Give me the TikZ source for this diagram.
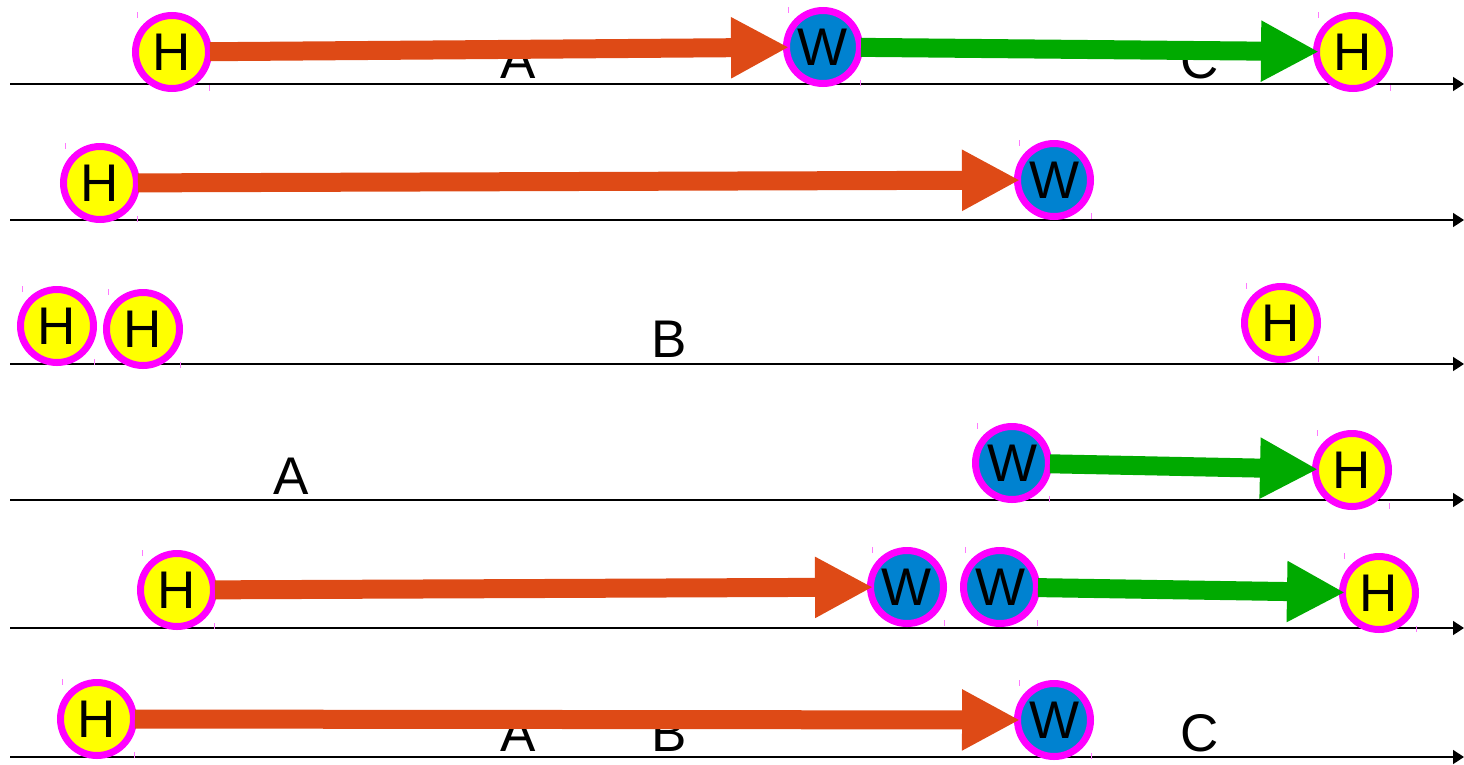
\documentclass[tikz,border=0pt]{standalone}
\usepackage{fontspec}
\setmainfont{Liberation Sans}
\usetikzlibrary{arrows.meta}

\definecolor{hfill}{RGB}{255,255,0}
\definecolor{wfill}{RGB}{0,130,208}
\definecolor{ring}{RGB}{255,0,255}
\definecolor{fwd}{RGB}{222,74,22}
\definecolor{ret}{RGB}{0,170,0}
\definecolor{tickc}{RGB}{255,120,255}

\begin{document}
\begin{tikzpicture}[
    x=1pt, y=-1pt,
    hnode/.style={circle, draw=ring, line width=7pt, fill=hfill, minimum size=73pt, inner sep=0pt, font=\fontsize{53}{60}\selectfont},
    wnode/.style={hnode, fill=wfill},
    lbl/.style={anchor=base, font=\fontsize{53}{60}\selectfont},
    axis/.style={line width=1.5pt, -{Triangle[length=11pt,width=14pt]}},
    fwdarrow/.style={line width=19pt, draw=fwd, shorten <=-2pt, shorten >=-6pt, -{Triangle[length=58pt,width=57pt]}},
    retarrow/.style={fwdarrow, draw=ret},
    cornertick/.style={draw=tickc, line width=1pt}
]
\useasboundingbox (0,0) rectangle (1464,764);

% Time lines
\foreach \y [count=\i] in {84,220,364,500,628,757} {
    \coordinate (s\i) at (10,\y);
    \coordinate (t\i) at (1464,\y);
    \draw[axis] (s\i) -- (t\i);
}

% Labels
\node[lbl] (a1) at (518,78) {A};
\node[lbl] (c1) at (1200,78) {C};
\node[lbl] (b3) at (669,357) {B};
\node[lbl] (a4) at (291,494) {A};
\node[lbl] (a6) at (518,751) {A};
\node[lbl] (b6) at (669,751) {B};
\node[lbl] (c6) at (1200,751) {C};

% Row 1
\node[hnode] (h1) at (172,52) {H};
\node[wnode] (w1) at (823,47) {W};
\node[hnode] (e1) at (1353,52) {H};

% Row 2
\node[hnode] (h2) at (100,183) {H};
\node[wnode] (w2) at (1054,180) {W};

% Row 3
\node[hnode] (h3a) at (57,326) {H};
\node[hnode] (h3b) at (143,329) {H};
\node[hnode] (h3c) at (1281,323) {H};

% Row 4
\node[wnode] (w4) at (1012,463) {W};
\node[hnode] (h4) at (1352,470) {H};

% Row 5
\node[hnode] (h5) at (177,590) {H};
\node[wnode] (w5a) at (907,587) {W};
\node[wnode] (w5b) at (1000,587) {W};
\node[hnode] (e5) at (1379,593) {H};

% Row 6
\node[hnode] (h6) at (97,719) {H};
\node[wnode] (w6) at (1054,720) {W};

% Arrows
\draw[fwdarrow] (h1) -- (w1);
\draw[retarrow] (w1) -- (e1);
\draw[fwdarrow] (h2) -- (w2);
\draw[retarrow] (w4) -- (h4);
\draw[fwdarrow] (h5) -- (w5a);
\draw[retarrow] (w5b) -- (e5);
\draw[fwdarrow] (h6) -- (w6);

% corner marks
\foreach \n in {h1,w1,e1,h2,w2,h3a,h3b,h3c,w4,h4,h5,w5a,w5b,e5,h6,w6} {
    \draw[cornertick] (\n) ++(-35,-40) -- ++(0,6);
    \draw[cornertick] (\n) ++(37,33) -- ++(0,6);
}

\end{tikzpicture}
\end{document}
